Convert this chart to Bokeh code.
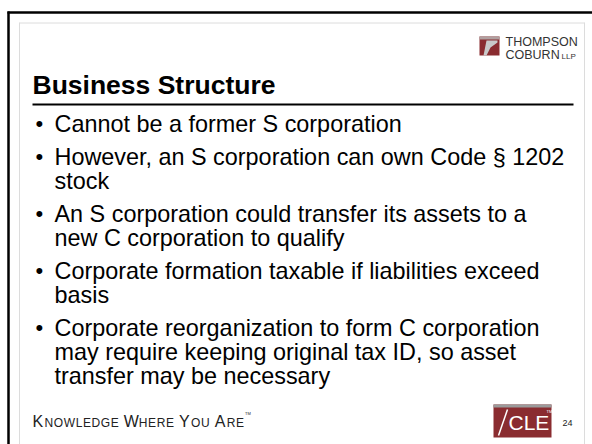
from bokeh.plotting import figure
from bokeh.models import Range1d
from bokeh.core.properties import value
from bokeh.embed import file_html
from bokeh.resources import INLINE

# ---- slide content ----
title = "Business Structure"
bullets = [
    ["Cannot be a former S corporation"],
    ["However, an S corporation can own Code \u00a7 1202", "stock"],
    ["An S corporation could transfer its assets to a", "new C corporation to qualify"],
    ["Corporate formation taxable if liabilities exceed", "basis"],
    ["Corporate reorganization to form C corporation",
     "may require keeping original tax ID, so asset",
     "transfer may be necessary"],
]
footer_words = [("K", "NOWLEDGE"), ("W", "HERE"), ("Y", "OU"), ("A", "RE")]
page_number = "24"
logo_top = ["THOMPSON", "COBURN"]
logo_suffix = "LLP"
cle_text = "CLE"

FONT = value("Liberation Sans")
RED = "#8a2c30"
# approximate Arial advance widths (em fractions) for small-caps spacing
ADV = {"N": 0.722, "O": 0.778, "W": 0.944, "L": 0.556, "E": 0.667, "D": 0.722,
       "G": 0.778, "H": 0.722, "R": 0.722, "U": 0.722}

# data coords == page pixel coords
p = figure(width=592, height=444, output_backend="svg", toolbar_location=None,
           x_range=Range1d(0, 592), y_range=Range1d(444, 0),
           min_border=0, outline_line_color=None, background_fill_color="white")
p.axis.visible = False
p.grid.visible = False

# slide frame
p.segment(x0=[7], y0=[12], x1=[592], y1=[12], line_color="black", line_width=2.5)
p.segment(x0=[8], y0=[11], x1=[8], y1=[444], line_color="black", line_width=2.5)
p.segment(x0=[19], y0=[22.5], x1=[584], y1=[22.5], line_color="#dcdcdc", line_width=1)
p.segment(x0=[19], y0=[22], x1=[19], y1=[444], line_color="#dcdcdc", line_width=1)
p.segment(x0=[584], y0=[22], x1=[584], y1=[444], line_color="#dcdcdc", line_width=1)

# title
p.text(x=[32], y=[84], text=[title], text_font=FONT, text_font_size="26.5px",
       text_font_style="bold", text_color="black", text_baseline="middle")
p.segment(x0=[32], y0=[104], x1=[573], y1=[104], line_color="black", line_width=2)

# bullets
y = 123
within, between = 24, 33
bx, by, tx, ty, tt = [], [], [], [], []
for para in bullets:
    bx.append(35); by.append(y)
    for i, line in enumerate(para):
        tx.append(54); ty.append(y); tt.append(line)
        if i < len(para) - 1:
            y += within
    y += between
p.text(x=bx, y=by, text=["\u2022"] * len(bx), text_font=FONT, text_font_size="22px",
       text_color="black", text_baseline="middle")
p.text(x=tx, y=ty, text=tt, text_font=FONT, text_font_size="23.4px",
       text_color="black", text_baseline="middle")

# Thompson Coburn logo
p.quad(left=[479], right=[499], top=[36], bottom=[55], fill_color=RED, line_color=None)
p.quad(left=[479], right=[499], top=[36], bottom=[39], fill_color="#b0a0a0", line_color=None)
p.patch(x=[486, 497, 497, 490, 486, 483], y=[40, 40, 42, 47, 55, 55],
        fill_color="#c9c9c9", line_color=None)
p.text(x=[505, 505], y=[41, 54], text=logo_top, text_font=FONT, text_font_size="12.5px",
       text_color="#333333", text_baseline="middle")
p.text(x=[561], y=[56], text=[logo_suffix], text_font=FONT, text_font_size="8px",
       text_color="#333333", text_baseline="middle")

# footer tagline (small caps)
fx = 32
FY = 421
for cap, rest in footer_words:
    p.text(x=[fx], y=[FY], text=[cap], text_font=FONT, text_font_size="16px",
           text_color="#222222", text_baseline="middle")
    fx += 12 if cap != "W" else 15
    xs = []
    for ch in rest:
        xs.append(fx)
        fx += 12 * ADV[ch] + 0.6
    p.text(x=xs, y=[FY + 1] * len(xs), text=list(rest), text_font=FONT, text_font_size="12px",
           text_color="#222222", text_baseline="middle")
    fx += 4.5
p.text(x=[fx - 4], y=[413], text=["TM"], text_font=FONT, text_font_size="4px",
       text_color="#222222", text_baseline="middle")

# CLE logo
p.quad(left=[493], right=[551], top=[404], bottom=[437], fill_color=RED, line_color=None)
p.quad(left=[493], right=[551], top=[404], bottom=[407], fill_color="#9b9b9b", line_color=None)
p.segment(x0=[498], y0=[435], x1=[507], y1=[409], line_color="white", line_width=1.5)
p.text(x=[508], y=[422], text=[cle_text], text_font=FONT, text_font_size="21px",
       text_color="white", text_baseline="middle")
p.text(x=[546], y=[411], text=["TM"], text_font=FONT, text_font_size="4px",
       text_color="white", text_baseline="middle")
p.text(x=[562], y=[422], text=[page_number], text_font=FONT, text_font_size="9px",
       text_color="#222222", text_baseline="middle")

open("out.html", "w").write(file_html(p, INLINE))
